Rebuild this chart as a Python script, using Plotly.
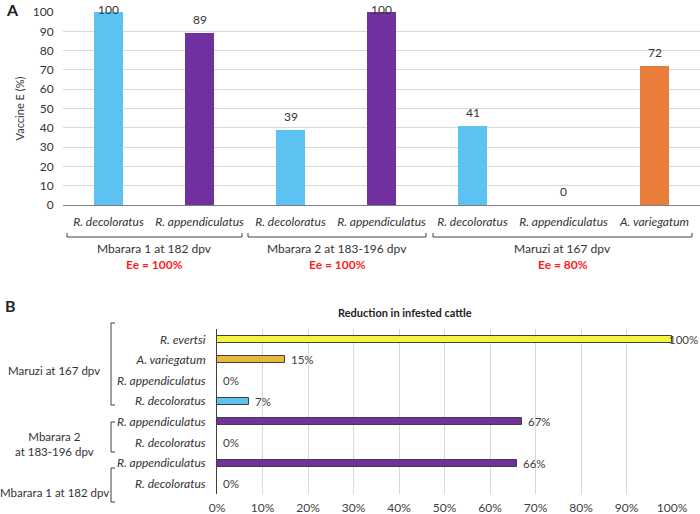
import plotly.graph_objects as go

# ---- Panel A data ----
a_categories = ["R. decoloratus", "R. appendiculatus", "R. decoloratus ", "R. appendiculatus ",
                "R. decoloratus  ", "R. appendiculatus  ", "A. variegatum"]
a_labels = ["R. decoloratus", "R. appendiculatus", "R. decoloratus", "R. appendiculatus",
            "R. decoloratus", "R. appendiculatus", "A. variegatum"]
a_values = [100, 89, 39, 100, 41, 0, 72]
a_colors = ["#5BC2F2", "#7030A0", "#5BC2F2", "#7030A0", "#5BC2F2", "#7030A0", "#E97E3A"]
a_groups = ["Mbarara 1 at 182 dpv", "Mbarara 2 at 183-196 dpv", "Maruzi at 167 dpv"]
a_ee = ["Ee = 100%", "Ee = 100%", "Ee = 80%"]
a_yticks = list(range(0, 101, 10))

# ---- Panel B data ----
b_labels = ["R. decoloratus", "R. appendiculatus", "R. decoloratus", "R. appendiculatus",
            "R. decoloratus", "R. appendiculatus", "A. variegatum", "R. evertsi"]
b_values = [0.0, 0.66, 0.0, 0.67, 0.07, 0.0, 0.15, 1.0]
b_colors = ["#5BC2F2", "#7030A0", "#5BC2F2", "#7030A0", "#5BC2F2", "#7030A0", "#E8B83A", "#F2F53C"]
b_groups = ["Mbarara 1 at 182 dpv", "Mbarara 2<br>at 183-196 dpv", "Maruzi at 167 dpv"]
b_xticks = [i / 10 for i in range(0, 11)]

FONT = "Lato"
W, H = 700, 514

def px(x):
    return x / W

def py(y):
    return 1 - y / H

fig = go.Figure()

fig.add_trace(go.Bar(
    x=a_categories, y=a_values, marker=dict(color=a_colors, line=dict(width=0)),
    width=0.31, xaxis="x", yaxis="y", showlegend=False,
))

b_y = list(range(len(b_values)))
fig.add_trace(go.Bar(
    x=b_values, y=b_y, orientation="h",
    marker=dict(color=b_colors, line=dict(width=1, color="#404040")),
    width=0.34, xaxis="x2", yaxis="y2", showlegend=False,
))

fig.update_layout(
    width=W, height=H, margin=dict(l=0, r=0, t=0, b=0, autoexpand=False),
    plot_bgcolor="white", paper_bgcolor="white",
    font=dict(family=FONT, size=12, color="#333333"),
    xaxis=dict(domain=[px(63), 1.0], tickvals=a_categories, ticktext=[f"<i>{t}</i>" for t in a_labels],
               showline=True, linecolor="#7F7F7F", linewidth=1, showgrid=False, automargin=False,
               ticks="outside", ticklen=6, tickcolor="rgba(0,0,0,0)",
               tickfont=dict(size=12, color="#333333"), anchor="y"),
    yaxis=dict(domain=[py(205), py(12)], range=[0, 100], tickvals=a_yticks, automargin=False,
               showgrid=True, gridcolor="#D9D9D9", zeroline=False, showline=False,
               tickfont=dict(size=12, color="#333333"), anchor="x",
               ticks="outside", ticklen=6, tickcolor="rgba(0,0,0,0)",
               title=dict(text="Vaccine E (%)", font=dict(size=11, color="#333333"), standoff=5)),
    xaxis2=dict(domain=[px(217), px(672)], range=[0, 1], tickvals=b_xticks, tickformat=".0%",
                showgrid=True, gridcolor="#D9D9D9", zeroline=False, showline=False, automargin=False,
                tickfont=dict(size=12, color="#404040"), anchor="y2",
                ticks="outside", ticklen=3, tickcolor="rgba(0,0,0,0)"),
    yaxis2=dict(domain=[py(494), py(329)], range=[-0.5, 7.5], tickvals=b_y,
                ticktext=[f"<i>{t}</i>" for t in b_labels], automargin=False,
                showline=True, linecolor="#404040", linewidth=1, showgrid=False, zeroline=False,
                tickfont=dict(size=12, color="#333333"), anchor="x2",
                ticks="outside", ticklen=8, tickcolor="rgba(0,0,0,0)"),
    bargap=0,
)

ann = []
shapes = []
# Value labels, panel A
for c, v in zip(a_categories, a_values):
    ann.append(dict(x=c, y=v, xref="x", yref="y", text=str(v), showarrow=False,
                    xanchor="center", yanchor="bottom", yshift=4 if v < 95 else -7,
                    font=dict(size=12, color="#333333")))
# Value labels, panel B
for i, v in zip(b_y, b_values):
    ann.append(dict(x=v, y=i, xref="x2", yref="y2", text=f"{round(v*100)}%", showarrow=False,
                    xanchor="left", yanchor="middle", xshift=4 if v < 0.95 else -5,
                    font=dict(size=11.5, color="#404040")))
# Panel letters
ann.append(dict(x=px(4), y=py(9), xref="paper", yref="paper", text="<b>A</b>", showarrow=False,
                font=dict(size=16, color="#222222"), xanchor="left", yanchor="middle"))
ann.append(dict(x=px(3), y=py(305), xref="paper", yref="paper", text="<b>B</b>", showarrow=False,
                font=dict(size=16, color="#222222"), xanchor="left", yanchor="middle"))
# Panel A group brackets and labels
a_brackets = [(67, 242), (248, 426), (433, 692)]
for (x0, x1), g, e in zip(a_brackets, a_groups, a_ee):
    shapes.append(dict(type="path", xref="paper", yref="paper",
                       path=f"M {px(x0)} {py(233)} L {px(x0)} {py(237)} L {px(x1)} {py(237)} L {px(x1)} {py(233)}",
                       line=dict(color="#404040", width=1)))
    cx = px((x0 + x1) / 2)
    ann.append(dict(x=cx, y=py(248), xref="paper", yref="paper", text=g, showarrow=False,
                    font=dict(size=12, color="#333333"), xanchor="center", yanchor="middle"))
    ann.append(dict(x=cx, y=py(264), xref="paper", yref="paper", text=f"<b>{e}</b>", showarrow=False,
                    font=dict(size=12, color="#FF2020"), xanchor="center", yanchor="middle"))
# Panel B title
ann.append(dict(x=px(405), y=py(312), xref="paper", yref="paper", text="<b>Reduction in infested cattle</b>",
                showarrow=False, font=dict(size=11, color="#222222"), xanchor="center", yanchor="middle"))
# Panel B group brackets and labels
b_brackets = [(468, 502, 492), (422, 452, 444), (323, 405, 370)]
for (y0, y1, ly), g in zip(b_brackets, b_groups):
    shapes.append(dict(type="path", xref="paper", yref="paper",
                       path=f"M {px(115)} {py(y0)} L {px(111)} {py(y0)} L {px(111)} {py(y1)} L {px(115)} {py(y1)}",
                       line=dict(color="#404040", width=1)))
    ann.append(dict(x=px(54), y=py(ly), xref="paper", yref="paper", text=g, showarrow=False,
                    font=dict(size=11.5, color="#333333"), xanchor="center", yanchor="middle",
                    align="center"))

fig.update_layout(annotations=ann, shapes=shapes)
fig.write_html("out.html", config={"displayModeBar": False},
               post_script="document.body.style.margin='0';")
